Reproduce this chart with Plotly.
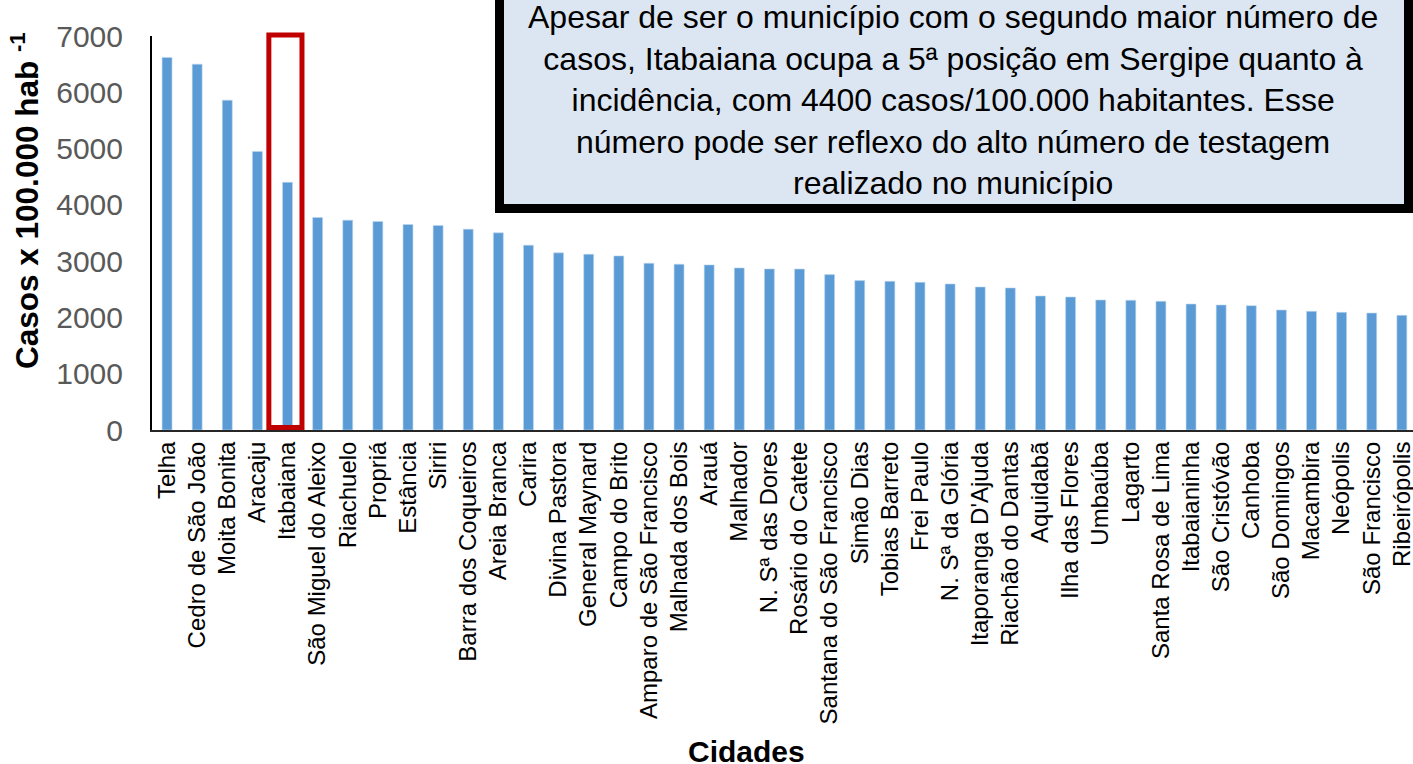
import plotly.graph_objects as go

cities = [
    "Telha", "Cedro de São João", "Moita Bonita", "Aracaju", "Itabaiana",
    "São Miguel do Aleixo", "Riachuelo", "Propriá", "Estância", "Siriri",
    "Barra dos Coqueiros", "Areia Branca", "Carira", "Divina Pastora",
    "General Maynard", "Campo do Brito", "Amparo de São Francisco",
    "Malhada dos Bois", "Arauá", "Malhador", "N. Sª das Dores",
    "Rosário do Catete", "Santana do São Francisco", "Simão Dias",
    "Tobias Barreto", "Frei Paulo", "N. Sª da Glória", "Itaporanga D'Ajuda",
    "Riachão do Dantas", "Aquidabã", "Ilha das Flores", "Umbaúba", "Lagarto",
    "Santa Rosa de Lima", "Itabaianinha", "São Cristóvão", "Canhoba",
    "São Domingos", "Macambira", "Neópolis", "São Francisco", "Ribeirópolis",
]

incidence = [
    6620, 6500, 5860, 4950, 4400,
    3776, 3728, 3705, 3652, 3634,
    3568, 3503, 3283, 3147,
    3123, 3093, 2962,
    2945, 2933, 2880, 2862,
    2860, 2761, 2654,
    2642, 2624, 2595, 2541,
    2524, 2381, 2363, 2310, 2304,
    2286, 2238, 2221, 2209,
    2132, 2108, 2090, 2078, 2037,
]

y_ticks = [0, 1000, 2000, 3000, 4000, 5000, 6000, 7000]
highlight_city = "Itabaiana"

note_text = (
    "Apesar de ser o município com o segundo maior número de<br>"
    "casos, Itabaiana ocupa a 5ª posição em Sergipe quanto à<br>"
    "incidência, com 4400 casos/100.000 habitantes. Esse<br>"
    "número pode ser reflexo do alto número de testagem<br>"
    "realizado no município"
)

FONT = "Liberation Sans, Arial, sans-serif"

fig = go.Figure()
fig.add_trace(go.Bar(
    x=cities, y=incidence,
    marker=dict(color="#5B9BD5", line=dict(color="#BDD7EE", width=0.6)),
))

W, H = 1413, 764
L, R, T, B = 152, 0, 36, 334
pw, ph = W - L - R, H - T - B

def px(xp):
    return (xp - L) / pw

def py(yp):
    return (H - B - yp) / ph

fig.update_layout(
    width=W, height=H,
    margin=dict(l=L, r=R, t=T, b=B, pad=0),
    plot_bgcolor="white", paper_bgcolor="white",
    showlegend=False,
    bargap=0.67,
    font=dict(family=FONT, color="black"),
)

fig.update_xaxes(
    type="category",
    range=[-0.5, 41.37],
    showline=True, linecolor="#262626", linewidth=2,
    showgrid=False, ticks="",
    tickangle=-90,
    tickfont=dict(size=24, color="black", family=FONT),
    ticklabelstandoff=0,
    automargin=False,
)
fig.update_yaxes(
    range=[0, max(y_ticks)],
    tickvals=y_ticks,
    showline=True, linecolor="black", linewidth=2,
    showgrid=False, zeroline=False, ticks="",
    tickfont=dict(size=30, color="#595959", family=FONT),
    ticklabelstandoff=21,
    automargin=False,
)

# Red highlight rectangle around Itabaiana
hi = cities.index(highlight_city)
fig.add_shape(
    type="rect", xref="x", yref="paper",
    x0=hi - 0.62, x1=hi + 0.48,
    y0=py(427.5), y1=py(35),
    line=dict(color="#C00000", width=5),
    fillcolor="rgba(0,0,0,0)",
)

# Note box
fig.add_shape(
    type="rect", xref="paper", yref="paper",
    x0=px(499.5), x1=px(1408.5), y0=py(208.5), y1=py(-6),
    line=dict(color="black", width=9),
    fillcolor="#DCE6F2",
    layer="above",
)
fig.add_annotation(
    xref="paper", yref="paper", x=px(953), y=py(100),
    xanchor="center", yanchor="middle",
    text=note_text, showarrow=False, align="center",
    font=dict(size=32, color="black", family=FONT),
)

# Axis titles
fig.add_annotation(
    xref="paper", yref="paper", x=px(25), y=py(201),
    xanchor="center", yanchor="middle", textangle=-90,
    text="<b>Casos x 100.000 hab <sup>-1</sup></b>", showarrow=False,
    font=dict(size=31.5, color="black", family=FONT),
)
fig.add_annotation(
    xref="paper", yref="paper", x=px(746), y=py(751),
    xanchor="center", yanchor="middle",
    text="<b>Cidades</b>", showarrow=False,
    font=dict(size=30, color="black", family=FONT),
)

fig.write_html(
    "out.html",
    config={"displayModeBar": False},
    post_script="document.body.style.margin='0';",
)
